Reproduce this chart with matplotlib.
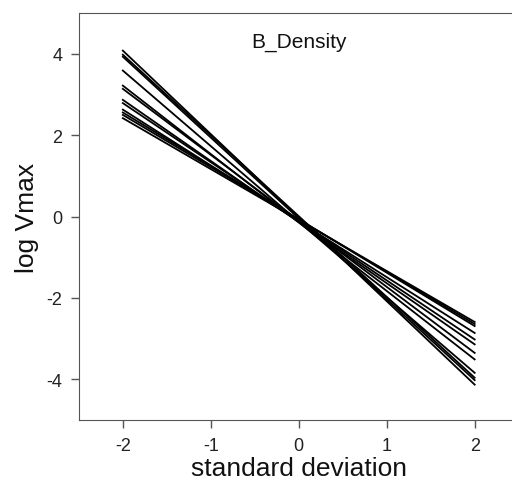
import numpy as np
import matplotlib
matplotlib.use("Agg")
import matplotlib.pyplot as plt

plt.rcParams['font.family'] = ['Liberation Sans', 'DejaVu Sans']
plt.rcParams['axes.unicode_minus'] = False

# standard deviation endpoints
sd = [-2, 2]
# log Vmax at sd = -2 and sd = 2, one entry per fitted line
left_vals = [4.08, 3.98, 3.93, 3.59, 3.22, 3.14, 2.87, 2.79, 2.63, 2.56, 2.50, 2.42]
right_vals = [-4.13, -3.96, -4.02, -3.84, -3.51, -3.35, -3.14, -3.02, -2.86, -2.69, -2.64, -2.59]

fig = plt.figure(figsize=(5.12, 4.89), dpi=100)
ax = fig.add_axes([0.154, 0.139, 0.859, 0.832])

for lv, rv in zip(left_vals, right_vals):
    ax.plot(sd, [lv, rv], color='black', lw=1.3)

ax.set_xlim(-2.5, 2.5)
ax.set_ylim(-5, 5)
ax.set_xticks([-2, -1, 0, 1, 2])
ax.set_yticks([-4, -2, 0, 2, 4])
ax.tick_params(direction='out', length=6, width=1, pad=6, labelsize=13,
               color='#555555', labelcolor='#222222')
for s in ax.spines.values():
    s.set_color('#555555')

ax.text(0, 4.3, 'B_Density', ha='center', va='center', fontsize=15, color='#111111')
ax.set_xlabel('standard deviation', fontsize=19, labelpad=2, color='#111111')
ax.set_ylabel('log Vmax', fontsize=19, labelpad=5, color='#111111')

fig.savefig('out.png', dpi=100)
